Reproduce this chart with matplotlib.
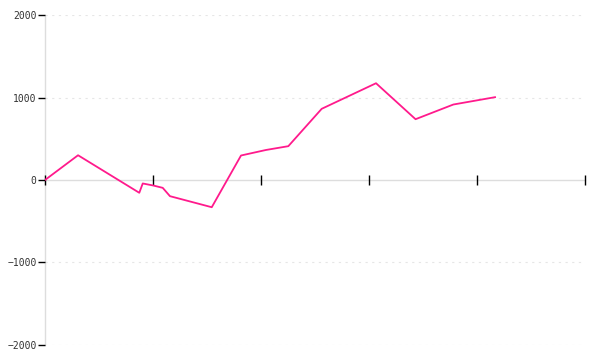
import matplotlib
matplotlib.use("Agg")
import matplotlib.pyplot as plt

x_vals = [0, 0.306, 0.873, 0.905, 1.003, 1.090, 1.157, 1.544, 1.815, 2.046,
          2.253, 2.562, 3.065, 3.431, 3.781, 4.167]
y_vals = [0, 300, -155, -42, -67, -95, -196, -330, 297, 364,
          410, 863, 1173, 737, 915, 1004]
y_ticks = [-2000, -1000, 0, 1000, 2000]
x_ticks = [0, 1, 2, 3, 4, 5]

fig = plt.figure(figsize=(6, 3.6), dpi=100)
ax = fig.add_axes([0.075, 0.0417, 0.9, 0.9166])
ax.set_xlim(0, 5)
ax.set_ylim(-2000, 2000)

for yv in y_ticks:
    if yv != 0:
        ax.axhline(yv, color="#e6e6e6", lw=0.8, ls=(0, (2, 4)), zorder=0)

ax.plot(x_vals, y_vals, color="#ff1a8c", lw=1.3, zorder=3)

for s in ["top", "right"]:
    ax.spines[s].set_visible(False)
ax.spines["left"].set_color("#dddddd")
ax.spines["left"].set_linewidth(1)
ax.spines["bottom"].set_position(("data", 0))
ax.spines["bottom"].set_color("#dddddd")
ax.spines["bottom"].set_linewidth(1)
for s in ["left", "bottom"]:
    ax.spines[s].set_zorder(0.5)
ax.xaxis.set_zorder(2)
ax.yaxis.set_zorder(2)

ax.set_xticks(x_ticks)
ax.set_xticklabels([])
ax.tick_params(axis="x", direction="inout", length=7, width=1, color="black")
for t in ax.xaxis.get_major_ticks():
    t.tick1line.set_clip_on(False)

ax.set_yticks(y_ticks)
ax.set_yticklabels([f"{v}".replace("-", "\u2212") for v in y_ticks],
                   family="DejaVu Sans Mono", fontsize=7, color="#333333")
ax.tick_params(axis="y", direction="out", length=5, width=1, color="black", pad=1)

fig.savefig("out.png", dpi=100)
